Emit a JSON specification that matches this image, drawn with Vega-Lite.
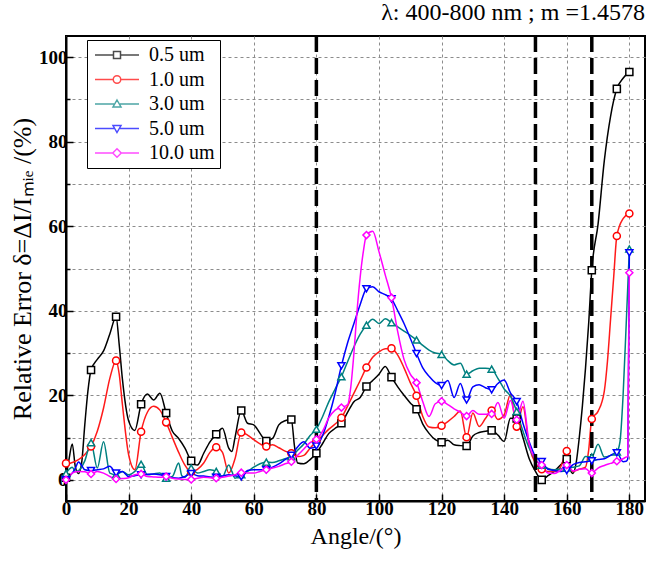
{
"$schema": "https://vega.github.io/schema/vega-lite/v6.json",
"width": 579, "height": 465,
"autosize": "none",
"padding": {"left": 66, "top": 36, "right": 4, "bottom": 61},
"background": "white",
"config": {"font": "Liberation Serif", "view": {"stroke": "black", "strokeWidth": 2}},
"title": {"text": "λ: 400-800 nm ; m =1.4578", "anchor": "end", "fontSize": 24, "fontWeight": "normal", "font": "Liberation Serif", "offset": 9, "color": "black"},
"data": {"values": [
{"a":0,"k":0.5,"r":3.9,"t":1.5,"b":0,"m":0},
{"a":1,"k":5,"r":3.9,"t":2.5,"b":0.8,"m":0.8},
{"a":2,"k":8.5,"r":4.1,"t":3,"b":1.6,"m":1.6},
{"a":3,"k":3,"r":4.4,"t":2,"b":2.8,"m":1.9},
{"a":4,"k":1.5,"r":4.8,"t":2.2,"b":4.2,"m":2},
{"a":5,"k":4,"b":3.4},
{"a":6,"k":13,"r":6,"t":4.5,"b":2.4,"m":1.9},
{"a":7,"k":21},
{"a":8,"k":26,"r":7.9,"t":8.8,"b":2.2,"m":1.4},
{"a":10,"k":28.5,"r":11.5,"t":2.8,"b":2.4,"m":2},
{"a":12,"k":30.5,"r":17,"t":9,"b":2.6,"m":1.6},
{"a":14,"k":34.5,"r":24,"t":1.6,"b":3.2,"m":0.8},
{"a":16,"k":38.6,"r":28.2,"t":1.2,"b":1.6,"m":0.2},
{"a":17,"k":32,"r":25},
{"a":18,"k":24,"r":18,"t":2,"b":2,"m":0.3},
{"a":20,"k":14,"r":6,"t":1.2,"b":0.8,"m":0.5},
{"a":22,"k":11.7,"r":2.4,"t":2,"b":1,"m":1.2},
{"a":24,"k":17.9,"r":11.4,"t":3.7,"b":1.2,"m":1.4},
{"a":26,"k":20.3,"r":16,"t":1.2,"b":1.3,"m":0.8},
{"a":28,"k":18.9,"r":17.4,"t":1.4,"b":1.4,"m":0.7},
{"a":30,"k":20.5,"r":16.5,"t":1.6,"b":1.2,"m":0.6},
{"a":32,"k":15.8,"r":13.6,"t":0.4,"b":0.8,"m":0.8},
{"a":34,"k":11.5,"r":10,"t":0.8,"b":0.5,"m":0.4},
{"a":36,"k":9.8,"r":6.5,"t":4,"b":0.4,"m":0.2},
{"a":37,"t":1},
{"a":38,"k":7.5,"r":3.5,"t":0.6,"b":0.8,"m":0.1},
{"a":40,"k":4.5,"r":1.9,"t":2.8,"b":1.5,"m":0.1},
{"a":42,"k":3.5,"r":2.5,"t":1.6,"b":1,"m":0.4},
{"a":44,"k":6.3,"r":4,"t":2,"b":0.9,"m":0.6},
{"a":46,"k":9,"r":6.5,"t":2.4,"b":0.7,"m":0.5},
{"a":48,"k":10.8,"r":7.7,"t":2,"b":0.6,"m":0.4},
{"a":50,"k":12.2,"r":6.5,"t":0.8,"b":0.9,"m":0.6},
{"a":52,"k":7.5,"r":1.6,"t":3.5,"b":1.2,"m":0.9},
{"a":53,"k":6.7,"t":2},
{"a":54,"k":10,"r":5,"t":0.4,"b":1,"m":1.2},
{"a":56,"k":16.4,"r":11.2,"t":1.2,"b":0.7,"m":1.7},
{"a":58,"k":13.4,"r":10.6,"t":2,"b":2.2,"m":1.6},
{"a":60,"k":13,"r":9.5,"t":3,"b":2.4,"m":1.6},
{"a":62,"k":11,"r":8.5,"t":3.8,"b":2.4,"m":2},
{"a":64,"k":9.2,"r":7.9,"t":4.2,"b":2.4,"m":2.4},
{"a":66,"k":9.8,"r":8.3,"t":4.1,"b":3,"m":2.8},
{"a":68,"k":13,"r":7.6,"t":4.5,"b":3.8,"m":3.2},
{"a":70,"k":14,"r":6.8,"t":5,"b":4.8,"m":3.8},
{"a":72,"k":14.3,"r":6.3,"t":5.5,"b":5.8,"m":4.3},
{"a":73,"k":8},
{"a":74,"k":4,"r":5.5,"t":7,"b":7.8,"m":5.8},
{"a":76,"k":3.8,"r":5.8,"t":8.5,"b":9,"m":7.3},
{"a":78,"k":4.8,"r":7.5,"t":10.5,"b":7.5,"m":8.8},
{"a":80,"k":6.3,"r":9.1,"t":12,"b":8,"m":9.6},
{"a":82,"k":8.6,"r":10.5,"t":15,"b":10.5,"m":11.5},
{"a":84,"k":11,"r":12,"t":18.5,"b":15,"m":14.7},
{"a":86,"k":12.2,"r":13.2,"t":21.5,"b":20.5,"m":16.5},
{"a":88,"k":13.4,"r":14.7,"t":24.4,"b":27,"m":17.1},
{"a":90,"k":16,"r":17.5,"t":28,"b":32.5,"m":17.8},
{"a":91,"m":22},
{"a":92,"k":18.5,"r":20.5,"t":31.5,"b":37,"m":30},
{"a":93,"m":40},
{"a":94,"k":19.5,"r":23.5,"t":34.5,"b":41.5,"m":48},
{"a":95,"m":54},
{"a":96,"k":22.1,"r":26.6,"t":36.6,"b":45.2,"m":57.9},
{"a":98,"k":23.5,"r":29,"t":38,"b":45.7,"m":58.8},
{"a":100,"k":25,"r":30.3,"t":37,"b":44.5,"m":54},
{"a":102,"k":26.8,"r":31,"t":38.1,"b":43.8,"m":48.5},
{"a":104,"k":24.3,"r":31.1,"t":37.2,"b":42.8,"m":43.1},
{"a":106,"k":22,"r":29.5,"t":36.2,"b":40,"m":35},
{"a":108,"k":20,"r":26.5,"t":35.2,"b":37,"m":28.5},
{"a":110,"k":18.2,"r":23,"t":34.2,"b":33.5,"m":25},
{"a":112,"k":16.7,"r":19.9,"t":33.1,"b":29.9,"m":23},
{"a":114,"k":13.2,"r":15,"t":31.8,"b":26.5,"m":18.5},
{"a":116,"k":11,"r":12.5,"t":30.7,"b":24.5,"m":15},
{"a":118,"k":9.5,"r":12.3,"t":30,"b":23,"m":18},
{"a":120,"k":8.9,"r":12.8,"t":29.7,"b":22.3,"m":18.6},
{"a":122,"k":9.4,"r":13.8,"t":28.2,"b":23.5,"m":17.8},
{"a":124,"k":8.3,"r":15,"t":27.2,"b":19.5,"m":16.8},
{"a":126,"k":8.1,"r":16.3,"t":27.6,"b":22.8,"m":16},
{"a":128,"k":8,"r":10.1,"t":25,"b":18.9,"m":15.1},
{"a":130,"k":10.4,"r":15.8,"t":25.8,"b":22,"m":16.4},
{"a":132,"k":11.2,"r":12.6,"t":26.4,"b":22.5,"m":15.5},
{"a":134,"k":11.5,"r":14.5,"t":26.4,"b":21.8,"m":15.5},
{"a":136,"k":11.7,"r":16.4,"t":26.2,"b":21.3,"m":15.6},
{"a":138,"k":10.6,"r":14.3,"t":24,"b":22.8,"m":18.3},
{"a":140,"k":9.1,"r":15.4,"t":21.5,"b":23.6,"m":14.6},
{"a":142,"k":14.6,"r":20.2,"t":19.8,"b":20.6,"m":18.8},
{"a":144,"k":14.5,"r":12.6,"t":16.2,"b":18.5,"m":14.2},
{"a":146,"k":10,"r":17.3,"t":11.5,"b":13.4,"m":18.6},
{"a":148,"k":5,"r":8,"t":7.5,"b":9,"m":8.5},
{"a":150,"k":2,"r":3.9,"t":4.8,"b":5.5,"m":4.8},
{"a":152,"k":0,"r":2.5,"t":3.5,"b":4.3,"m":3.5},
{"a":154,"k":1,"r":2,"t":2.7,"b":2.5,"m":1.6},
{"a":156,"k":2,"r":2,"t":2.4,"b":2.2,"m":1.5},
{"a":158,"k":3.5,"r":3,"t":2.6,"b":2,"m":2.2},
{"a":160,"k":4.9,"r":6.8,"t":2.8,"b":2.2,"m":3.5},
{"a":161,"k":2.5,"r":3},
{"a":162,"k":1.5,"r":2,"t":3,"b":3.6,"m":2.1},
{"a":163,"k":4},
{"a":164,"k":10,"r":2.5,"t":3.3,"b":4.1,"m":2.5},
{"a":165,"k":17.5},
{"a":166,"k":26.5,"r":3,"t":5.5,"b":4.3,"m":2.6},
{"a":167,"k":37,"r":7},
{"a":168,"k":49.6,"r":14.4,"t":5.4,"b":4.5,"m":1.6},
{"a":170,"k":60.5,"r":16.2,"t":8.4,"b":4.8,"m":2.8},
{"a":172,"k":75.5,"r":21,"t":5.4,"b":5,"m":3.4},
{"a":173,"r":28},
{"a":174,"k":86,"r":38,"t":5.8,"b":5.8,"m":3.9},
{"a":175,"r":48},
{"a":176,"k":92.5,"r":57.7,"t":6.6,"b":6.4,"m":4.4},
{"a":177,"t":9},
{"a":178,"k":95,"r":61.8,"t":20,"b":4.3,"m":5},
{"a":179,"t":37,"b":4.4,"m":5.4},
{"a":179.5,"b":5,"m":5.5},
{"a":180,"k":96.5,"r":63,"t":54.6,"b":53.7,"m":49}
]},
"layer": [
{
"transform": [{"fold": ["k","r","t","b","m"], "as": ["s","v"]}, {"filter": "datum.v != null"}],
"mark": {"type": "line", "interpolate": "monotone", "strokeWidth": 1.5},
"encoding": {
"x": {"field": "a", "type": "quantitative", "title": "Angle/(°)",
"scale": {"domain": [0, 185], "nice": false, "zero": false},
"axis": {"values": [0,10,20,30,40,50,60,70,80,90,100,110,120,130,140,150,160,170,180],
"labelExpr": "datum.value % 20 == 0 ? datum.label : ''",
"grid": true, "gridColor": "#8c8c8c", "gridDash": [3,3], "gridWidth": 1,
"domainColor": "black", "domainWidth": 2, "tickColor": "black", "tickWidth": 1.5,
"tickSize": {"condition": {"test": "datum.value % 20 == 0", "value": -7}, "value": -4},
"labelFont": "Liberation Serif", "labelFontSize": 19, "labelFontWeight": "bold", "labelColor": "black", "labelPadding": 5, "labelFlush": false,
"titleFont": "Liberation Serif", "titleFontSize": 24, "titleFontWeight": "normal", "titleColor": "black", "titlePadding": 6}},
"y": {"field": "v", "type": "quantitative", "title": "Relative Error δ=ΔI/Iₘᵢₑ /(%)",
"scale": {"domain": [-5, 105], "nice": false, "zero": false},
"axis": {"values": [0,10,20,30,40,50,60,70,80,90,100],
"labelExpr": "datum.value % 20 == 0 ? datum.label : ''",
"grid": true, "gridColor": "#8c8c8c", "gridDash": [3,3], "gridWidth": 1,
"domainColor": "black", "domainWidth": 2, "tickColor": "black", "tickWidth": 1.5,
"tickSize": {"condition": {"test": "datum.value % 20 == 0", "value": -7}, "value": -4},
"labelFont": "Liberation Serif", "labelFontSize": 19, "labelFontWeight": "bold", "labelColor": "black", "labelPadding": 6,
"titleFont": "Liberation Serif", "titleFontSize": 26, "titleFontWeight": "normal", "titleColor": "black", "titlePadding": 3}},
"color": {"field": "s", "type": "nominal", "legend": null,
"scale": {"domain": ["k","r","t","b","m"], "range": ["#000000","#ff1a1a","#008080","#0000ff","#ff00ff"]}}
}
},
{
"data": {"values": [{"x": 80}, {"x": 150}, {"x": 168}]},
"mark": {"type": "rule", "strokeWidth": 3.5, "strokeDash": [16, 6], "color": "black"},
"encoding": {"x": {"field": "x", "type": "quantitative", "title": "Angle/(°)"}}
},
{
"transform": [{"fold": ["k","r","t","b","m"], "as": ["s","v"]}, {"filter": "datum.v != null && (datum.a % 8 == 0 || datum.a == 180)"}],
"mark": {"type": "point", "filled": false, "fill": "white", "strokeWidth": 1.5, "size": 50, "opacity": 1},
"encoding": {
"x": {"field": "a", "type": "quantitative", "title": "Angle/(°)"},
"y": {"field": "v", "type": "quantitative", "title": "Relative Error δ=ΔI/Iₘᵢₑ /(%)"},
"color": {"field": "s", "type": "nominal", "legend": null,
"scale": {"domain": ["k","r","t","b","m"], "range": ["#000000","#ff0000","#008080","#0000ff","#ff00ff"]}},
"shape": {"field": "s", "type": "nominal", "legend": null,
"scale": {"domain": ["k","r","t","b","m"], "range": ["square","circle","triangle-up","triangle-down","diamond"]}}
}
},
{
"transform": [{"fold": ["k","r","t","b","m"], "as": ["s","v"]}, {"filter": "datum.a < -100"}],
"mark": {"type": "point", "filled": false},
"encoding": {
"x": {"field": "a", "type": "quantitative", "title": "Angle/(°)"},
"y": {"field": "v", "type": "quantitative", "title": "Relative Error δ=ΔI/Iₘᵢₑ /(%)"},
"color": {"field": "s", "type": "nominal",
"scale": {"domain": ["k","r","t","b","m"], "range": ["#000000","#ff0000","#008080","#0000ff","#ff00ff"]},
"legend": {"orient": "none", "legendX": 21, "legendY": 4, "title": null, "strokeColor": "black", "fillColor": "white", "padding": 5,
"symbolSize": 100, "symbolStrokeWidth": 1.5, "symbolOffset": 15, "labelOffset": 22,
"labelFont": "Liberation Serif", "labelFontSize": 20, "labelColor": "black", "rowPadding": 4.5,
"labelExpr": "{'k':'0.5 um','r':'1.0 um','t':'3.0 um','b':'5.0 um','m':'10.0 um'}[datum.label]"}},
"shape": {"field": "s", "type": "nominal",
"scale": {"domain": ["k","r","t","b","m"], "range": [
"M-4.4,0L-0.7,0M0.7,0L4.4,0M-0.7,-0.7L0.7,-0.7L0.7,0.7L-0.7,0.7Z",
"M-4.4,0L-0.75,0M0.75,0L4.4,0M0.75,0A0.75,0.75,0,1,1,-0.75,0A0.75,0.75,0,1,1,0.75,0Z",
"M-4.4,0L-0.6,0M0.6,0L4.4,0M0,-0.8L0.8,0.6L-0.8,0.6Z",
"M-4.4,0L-0.6,0M0.6,0L4.4,0M0,0.8L0.8,-0.6L-0.8,-0.6Z",
"M-4.4,0L-0.85,0M0.85,0L4.4,0M0,-0.85L0.85,0L0,0.85L-0.85,0Z"]},
"legend": {"orient": "none", "legendX": 21, "legendY": 4, "title": null, "strokeColor": "black", "fillColor": "white", "padding": 5,
"symbolSize": 100, "symbolStrokeWidth": 1.5, "symbolOffset": 15, "labelOffset": 22,
"labelFont": "Liberation Serif", "labelFontSize": 20, "labelColor": "black", "rowPadding": 4.5,
"labelExpr": "{'k':'0.5 um','r':'1.0 um','t':'3.0 um','b':'5.0 um','m':'10.0 um'}[datum.label]"}}
}
}
],
"resolve": {"scale": {"color": "independent", "shape": "independent"}}
}
